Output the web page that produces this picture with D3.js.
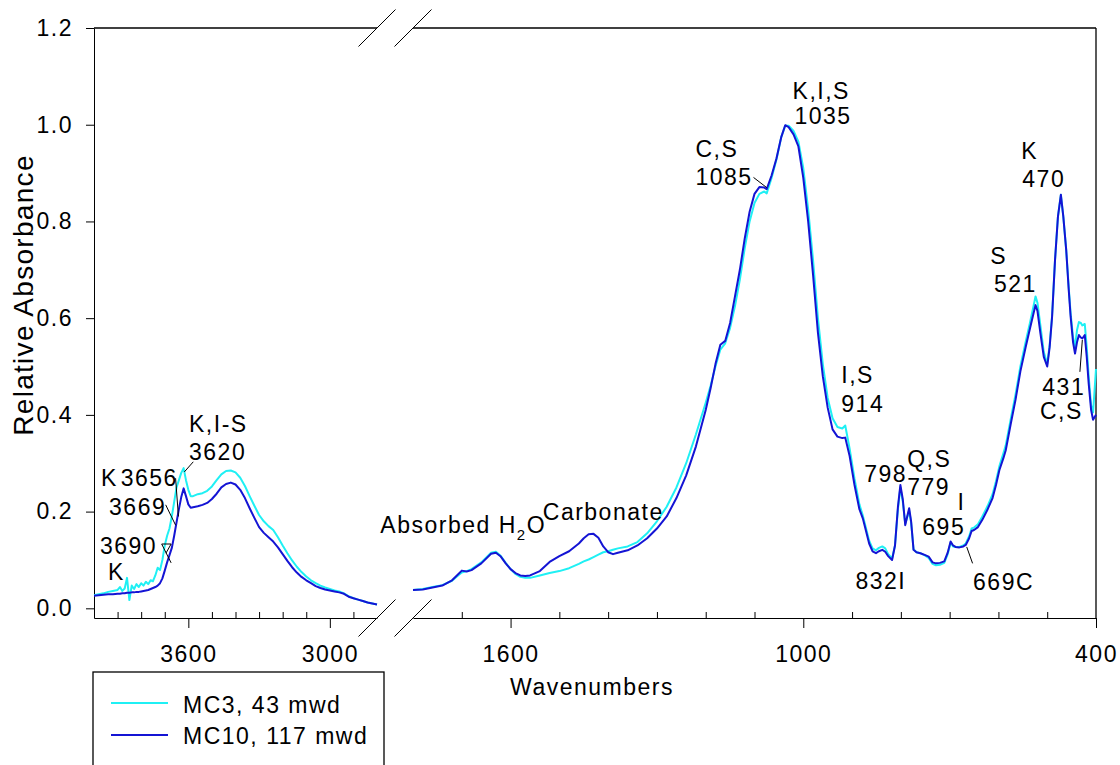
<!DOCTYPE html>
<html>
<head>
<meta charset="utf-8">
<script src="https://cdn.jsdelivr.net/npm/d3@7/dist/d3.min.js"></script>
<style>
  body { margin: 0; background: #fff; }
  text { font-family: "Liberation Sans", Arial, sans-serif; }
</style>
</head>
<body>
<div id="chart"></div>
<script>
// FTIR spectra, broken wavenumber axis (4000-2800 | 1800-400)

// ---- data: left segment (O-H stretch region) ----
var wnLeft = [4000,3980,3960,3940,3920,3900,3890,3880,3870,3860,
  3850,3840,3830,3820,3810,3800,3790,3780,3770,3760,
  3750,3740,3730,3720,3710,3700,3690,3680,3670,3660,
  3650,3640,3630,3620,3610,3600,3590,3580,3560,3540,
  3520,3500,3480,3460,3440,3420,3400,3380,3360,3340,
  3320,3300,3280,3260,3240,3220,3200,3180,3160,3140,
  3120,3100,3080,3060,3040,3020,3000,2980,2960,2940,
  2920,2900,2880,2860,2840,2820,2800];
var mc3Left = [0.027,0.029,0.031,0.034,0.036,0.038,0.044,0.036,0.041,0.063,
  0.017,0.047,0.040,0.050,0.044,0.052,0.047,0.055,0.050,0.058,
  0.056,0.068,0.084,0.079,0.100,0.130,0.150,0.165,0.190,0.220,
  0.250,0.265,0.280,0.290,0.265,0.245,0.232,0.232,0.236,0.238,
  0.243,0.252,0.265,0.277,0.284,0.285,0.281,0.270,0.253,0.232,
  0.212,0.193,0.180,0.170,0.162,0.147,0.130,0.114,0.099,0.086,
  0.075,0.066,0.058,0.052,0.047,0.043,0.040,0.037,0.035,0.031,
  0.025,0.021,0.018,0.015,0.012,0.010,0.008];
var mc10Left = [0.026,0.027,0.028,0.029,0.029,0.030,0.030,0.031,0.031,0.032,
  0.032,0.033,0.033,0.034,0.034,0.035,0.036,0.037,0.038,0.040,
  0.042,0.044,0.047,0.052,0.062,0.078,0.095,0.110,0.125,0.150,
  0.178,0.205,0.230,0.248,0.232,0.215,0.208,0.209,0.211,0.214,
  0.218,0.226,0.237,0.250,0.257,0.260,0.256,0.245,0.228,0.207,
  0.187,0.168,0.156,0.147,0.138,0.126,0.112,0.098,0.085,0.074,
  0.065,0.058,0.052,0.046,0.042,0.039,0.037,0.035,0.033,0.030,
  0.024,0.021,0.018,0.015,0.012,0.010,0.008];

// ---- data: right segment (fingerprint region) ----
var wnRight = [1800,1780,1760,1740,1720,1710,1700,1690,1680,1660,
  1640,1630,1620,1610,1600,1590,1580,1570,1560,1540,
  1520,1500,1480,1460,1450,1440,1430,1420,1410,1400,
  1390,1380,1360,1340,1320,1300,1280,1260,1240,1220,
  1200,1190,1180,1170,1160,1150,1140,1130,1120,1110,
  1100,1090,1080,1075,1065,1055,1045,1037,1030,1020,
  1010,1000,990,980,970,960,950,940,930,920,
  914,905,895,885,878,874,865,858,851,845,
  838,832,826,818,812,806,801,796,791,787,
  783,779,774,768,760,750,743,735,728,720,
  711,704,698,693,688,680,672,667,660,655,
  650,642,633,622,612,605,598,590,585,575,
  565,555,544,535,528,524,520,514,507,500,
  495,490,484,478,472,467,461,456,452,447,
  443,439,435,431,428,423,419,415,410,406,
  403,400];
var mc3Right = [0.038,0.040,0.044,0.048,0.057,0.066,0.074,0.077,0.081,0.095,
  0.115,0.117,0.108,0.094,0.081,0.071,0.065,0.063,0.063,0.068,
  0.073,0.077,0.083,0.092,0.097,0.101,0.106,0.111,0.116,0.118,
  0.121,0.124,0.128,0.137,0.155,0.180,0.210,0.250,0.300,0.360,
  0.425,0.460,0.500,0.535,0.548,0.580,0.625,0.680,0.745,0.800,
  0.838,0.857,0.862,0.858,0.890,0.928,0.975,0.998,0.998,0.987,
  0.965,0.910,0.825,0.720,0.600,0.505,0.435,0.393,0.375,0.372,
  0.378,0.330,0.268,0.215,0.192,0.176,0.140,0.124,0.120,0.125,
  0.128,0.124,0.112,0.103,0.130,0.205,0.250,0.220,0.175,0.188,
  0.202,0.178,0.122,0.116,0.114,0.109,0.104,0.092,0.089,0.090,
  0.094,0.112,0.136,0.128,0.127,0.127,0.130,0.134,0.149,0.165,
  0.167,0.174,0.190,0.212,0.236,0.263,0.294,0.320,0.337,0.390,
  0.442,0.500,0.552,0.592,0.625,0.645,0.632,0.585,0.530,0.505,
  0.545,0.605,0.720,0.810,0.855,0.810,0.740,0.665,0.610,0.560,
  0.540,0.575,0.592,0.590,0.585,0.588,0.540,0.480,0.420,0.405,
  0.450,0.495];
var mc10Right = [0.038,0.039,0.043,0.047,0.058,0.068,0.078,0.076,0.079,0.093,
  0.113,0.115,0.107,0.093,0.081,0.073,0.068,0.067,0.068,0.077,
  0.096,0.108,0.118,0.134,0.145,0.153,0.154,0.146,0.128,0.116,
  0.112,0.115,0.120,0.130,0.145,0.165,0.190,0.228,0.275,0.335,
  0.410,0.455,0.505,0.545,0.553,0.590,0.645,0.700,0.765,0.820,
  0.857,0.871,0.870,0.867,0.895,0.930,0.975,0.999,0.995,0.980,
  0.955,0.890,0.800,0.690,0.570,0.480,0.415,0.370,0.355,0.352,
  0.353,0.315,0.255,0.205,0.186,0.170,0.134,0.118,0.114,0.118,
  0.121,0.117,0.108,0.100,0.130,0.210,0.255,0.225,0.172,0.190,
  0.207,0.180,0.121,0.116,0.114,0.110,0.107,0.095,0.093,0.094,
  0.097,0.115,0.138,0.130,0.127,0.126,0.128,0.131,0.145,0.160,
  0.162,0.168,0.183,0.205,0.228,0.255,0.286,0.310,0.327,0.380,
  0.431,0.490,0.541,0.580,0.610,0.627,0.615,0.569,0.520,0.500,
  0.540,0.603,0.720,0.810,0.855,0.810,0.740,0.660,0.603,0.550,
  0.527,0.550,0.565,0.560,0.558,0.565,0.520,0.465,0.410,0.390,
  0.395,0.400];

var seriesNames = ["MC3, 43 mwd", "MC10, 117 mwd"];
var seriesColors = ["#1ff0f4", "#1414d4"];

var yTicks = [0, 0.2, 0.4, 0.6, 0.8, 1.0, 1.2];
var xMajorLeft = [3600, 3000];
var xMajorRight = [1600, 1000, 400];

// peak labels, anchored in data units (segment, wavenumber, absorbance)
var peakLabels = [
  {seg: "L", wn: 3941, v: 0.058, text: "K"},
  {seg: "L", wn: 3975, v: 0.112, text: "3690"},
  {seg: "L", wn: 3936, v: 0.193, text: "3669"},
  {seg: "L", wn: 3970, v: 0.253, text: "K"},
  {seg: "L", wn: 3887, v: 0.253, text: "3656"},
  {seg: "L", wn: 3597, v: 0.365, text: "K,I-S"},
  {seg: "L", wn: 3597, v: 0.307, text: "3620"},
  {seg: "R", wn: 1534, v: 0.183, text: "Carbonate"},
  {seg: "R", wn: 1221, v: 0.933, text: "C,S"},
  {seg: "R", wn: 1221, v: 0.875, text: "1085"},
  {seg: "R", wn: 1022, v: 1.053, text: "K,I,S"},
  {seg: "R", wn: 1018, v: 1.0015, text: "1035"},
  {seg: "R", wn: 553, v: 0.9285, text: "K"},
  {seg: "R", wn: 551, v: 0.872, text: "470"},
  {seg: "R", wn: 617, v: 0.712, text: "S"},
  {seg: "R", wn: 609, v: 0.655, text: "521"},
  {seg: "R", wn: 922, v: 0.465, text: "I,S"},
  {seg: "R", wn: 922, v: 0.407, text: "914"},
  {seg: "R", wn: 875, v: 0.262, text: "798"},
  {seg: "R", wn: 787, v: 0.292, text: "Q,S"},
  {seg: "R", wn: 787, v: 0.234, text: "779"},
  {seg: "R", wn: 684, v: 0.203, text: "I"},
  {seg: "R", wn: 756, v: 0.152, text: "695"},
  {seg: "R", wn: 893, v: 0.041, text: "832I"},
  {seg: "R", wn: 652, v: 0.0385, text: "669C"},
  {seg: "R", wn: 510, v: 0.441, text: "431"},
  {seg: "R", wn: 515, v: 0.391, text: "C,S"}
];

var leaders = [
  {seg: "L", pts: [[3713, 0.133], [3673, 0.133], [3695, 0.114]]},
  {seg: "L", pts: [[3713, 0.133], [3673, 0.094]]},
  {seg: "L", pts: [[3696, 0.214], [3654, 0.172]]},
  {seg: "L", pts: [[3654, 0.269], [3642, 0.190]]},
  {seg: "L", pts: [[3579, 0.303], [3617, 0.282]]},
  {seg: "R", pts: [[1102, 0.891], [1075, 0.870]]},
  {seg: "R", pts: [[665, 0.127], [653, 0.093]]},
  {seg: "R", pts: [[433, 0.489], [428, 0.555]]}
];

var svgWidth = 1120;
var svgHeight = 765;
var fontSize = 23;
var spacing = "1.5px";

var svg = d3.select("#chart")
  .append("svg")
  .attr("width", svgWidth)
  .attr("height", svgHeight)
  .style("display", "block");

var xLeft = d3.scaleLinear().domain([4000, 2800]).range([94, 377]);
var xRight = d3.scaleLinear().domain([1800, 400]).range([413, 1096]);
var yScale = d3.scaleLinear().domain([-0.02, 1.2]).range([618, 28]);

function xOf(seg) { return seg === "L" ? xLeft : xRight; }

var plotTop = yScale.range()[1];
var plotBottom = yScale.range()[0];

// ---- axes ----
var leftAxis = d3.axisLeft(yScale)
  .tickValues(yTicks)
  .tickFormat(d3.format(".1f"))
  .tickSize(8)
  .tickSizeOuter(0)
  .tickPadding(13);

svg.append("g")
  .attr("transform", "translate(" + xLeft.range()[0] + ",0)")
  .call(leftAxis)
  .attr("font-size", fontSize)
  .attr("font-family", "Liberation Sans, Arial, sans-serif")
  .style("letter-spacing", spacing);

function drawXSegment(scale, majors, lo, hi) {
  var minors = d3.range(hi - 100, lo, -100).filter(function(d) { return majors.indexOf(d) < 0; });
  svg.append("g").attr("transform", "translate(0," + plotBottom + ")")
    .call(d3.axisBottom(scale).tickValues(majors).tickSize(10).tickSizeOuter(0).tickPadding(18).tickFormat(d3.format("d")))
    .attr("font-size", fontSize)
    .attr("font-family", "Liberation Sans, Arial, sans-serif")
    .style("letter-spacing", spacing);
  svg.append("g").attr("transform", "translate(0," + plotBottom + ")")
    .call(d3.axisBottom(scale).tickValues(minors).tickSize(-6).tickSizeOuter(0).tickFormat(""))
    .select(".domain").remove();
}
drawXSegment(xLeft, xMajorLeft, 2800, 4000);
drawXSegment(xRight, xMajorRight, 400, 1800);

// frame: top edge in two pieces, right edge
var frame = svg.append("g").attr("stroke", "#000").attr("stroke-width", 1.3);
frame.append("line").attr("x1", xLeft(4000)).attr("x2", xLeft(2800)).attr("y1", plotTop).attr("y2", plotTop);
frame.append("line").attr("x1", xRight(1800)).attr("x2", xRight(400)).attr("y1", plotTop).attr("y2", plotTop);
frame.append("line").attr("x1", xRight(400)).attr("x2", xRight(400)).attr("y1", plotTop).attr("y2", plotBottom);

// break marks
[xLeft(2800), xRight(1800)].forEach(function(bx) {
  [plotTop, plotBottom].forEach(function(by) {
    svg.append("line")
      .attr("x1", bx - 18.5).attr("y1", by + 18.5)
      .attr("x2", bx + 18.5).attr("y2", by - 18.5)
      .attr("stroke", "#000").attr("stroke-width", 1);
  });
});

// ---- spectra ----
function drawSpectrum(scale, wn, vals, color) {
  var pts = wn.map(function(w, i) { return [w, vals[i]]; });
  var line = d3.line()
    .x(function(d) { return scale(d[0]); })
    .y(function(d) { return yScale(d[1]); });
  svg.append("path")
    .datum(pts)
    .attr("d", line)
    .attr("fill", "none")
    .attr("stroke", color)
    .attr("stroke-width", 2)
    .attr("stroke-linejoin", "round");
}
drawSpectrum(xLeft, wnLeft, mc3Left, seriesColors[0]);
drawSpectrum(xRight, wnRight, mc3Right, seriesColors[0]);
drawSpectrum(xLeft, wnLeft, mc10Left, seriesColors[1]);
drawSpectrum(xRight, wnRight, mc10Right, seriesColors[1]);

// ---- annotations ----
var ann = svg.append("g")
  .attr("font-size", fontSize)
  .style("letter-spacing", spacing)
  .attr("fill", "#000");

ann.selectAll("text.peak")
  .data(peakLabels)
  .enter()
  .append("text")
  .attr("class", "peak")
  .attr("x", function(d) { return xOf(d.seg)(d.wn); })
  .attr("y", function(d) { return yScale(d.v); })
  .text(function(d) { return d.text; });

var h2o = ann.append("text")
  .attr("x", xRight(1867))
  .attr("y", yScale(0.156));
h2o.append("tspan").text("Absorbed H");
h2o.append("tspan").attr("font-size", 15).attr("dy", 7).text("2");
h2o.append("tspan").attr("dy", -7).text("O");

leaders.forEach(function(l) {
  var sc = xOf(l.seg);
  svg.append("path")
    .attr("d", d3.line()
      .x(function(p) { return sc(p[0]); })
      .y(function(p) { return yScale(p[1]); })(l.pts))
    .attr("fill", "none")
    .attr("stroke", "#000")
    .attr("stroke-width", 1);
});

// ---- axis titles ----
svg.append("text")
  .attr("x", 592)
  .attr("y", 695)
  .attr("text-anchor", "middle")
  .attr("font-size", fontSize)
  .style("letter-spacing", spacing)
  .text("Wavenumbers");

svg.append("text")
  .attr("transform", "translate(33,295) rotate(-90)")
  .attr("text-anchor", "middle")
  .attr("font-size", 28)
  .style("letter-spacing", "1.3px")
  .text("Relative Absorbance");

// ---- legend ----
var legend = svg.append("g").attr("transform", "translate(93,672)");
legend.append("rect")
  .attr("width", 291).attr("height", 120)
  .attr("fill", "#fff").attr("stroke", "#000").attr("stroke-width", 1.3);
seriesNames.forEach(function(name, i) {
  legend.append("line")
    .attr("x1", 18).attr("x2", 75)
    .attr("y1", 31 + i * 32).attr("y2", 31 + i * 32)
    .attr("stroke", seriesColors[i]).attr("stroke-width", 2);
  legend.append("text")
    .attr("x", 90).attr("y", 41 + i * 31)
    .attr("font-size", fontSize)
    .style("letter-spacing", spacing)
    .text(name);
});
</script>
</body>
</html>
